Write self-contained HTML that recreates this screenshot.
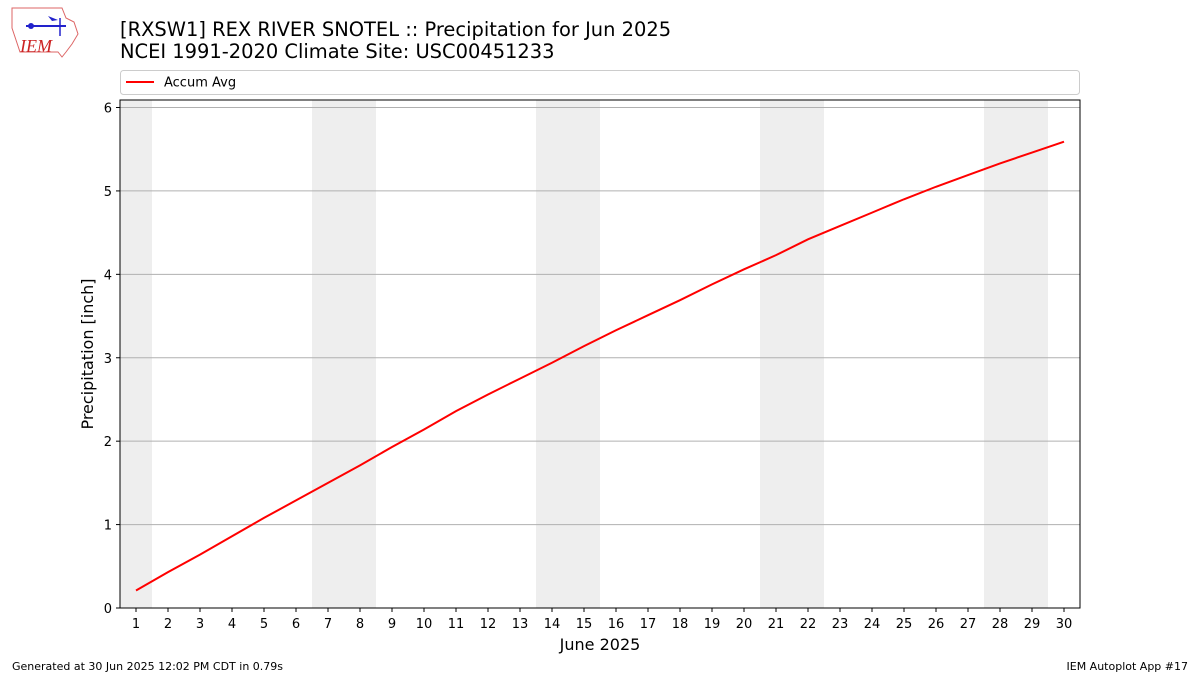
<!DOCTYPE html>
<html><head><meta charset="utf-8"><style>
body{margin:0;background:#fff;width:1200px;height:675px;overflow:hidden;font-family:"Liberation Sans","DejaVu Sans",sans-serif}
svg{display:block}
</style></head><body>
<svg width="1200" height="675" id="chart" font-family="DejaVu Sans, Liberation Sans, sans-serif">
<g>
<path d="M12 8 L62 8 L66 18 L74 22 L78 34 L72 44 L66 52 L62 57 L58 52 L20 52 L16 40 L12 28 Z" fill="#fff" stroke="#d66" stroke-width="1"/>
<line x1="26" y1="26" x2="66" y2="26" stroke="#22c" stroke-width="2"/>
<circle cx="31" cy="26" r="3" fill="#22c"/>
<path d="M48 16 L58 20 L52 21 Z" fill="#22c"/>
<line x1="60" y1="18" x2="60" y2="36" stroke="#22c" stroke-width="1.5"/>
<text x="20" y="52" font-family="Liberation Serif, serif" font-style="italic" font-size="18" fill="#c22">IEM</text>
</g>
<text x="120" y="36" font-size="19.45" fill="#000">[RXSW1] REX RIVER SNOTEL :: Precipitation for Jun 2025</text>
<text x="120" y="58" font-size="19.45" fill="#000">NCEI 1991-2020 Climate Site: USC00451233</text>
<g>
<rect x="120.5" y="70.5" width="959" height="24" rx="3" fill="#fff" stroke="#ccc"/>
<line x1="126" y1="82" x2="154" y2="82" stroke="#f00" stroke-width="2"/>
<text x="164" y="86.5" font-size="13">Accum Avg</text>
</g>
<g id="shade"></g><g id="grid"></g><g id="series"></g><g id="axes"></g>
<text transform="translate(93,354) rotate(-90)" text-anchor="middle" font-size="16">Precipitation [inch]</text>
<text x="600" y="650" text-anchor="middle" font-size="16">June 2025</text>
<text x="12" y="670" font-size="11">Generated at 30 Jun 2025 12:02 PM CDT in 0.79s</text>
<text x="1188" y="670" text-anchor="end" font-size="11">IEM Autoplot App #17</text>
</svg>
<script>
const days=[1,2,3,4,5,6,7,8,9,10,11,12,13,14,15,16,17,18,19,20,21,22,23,24,25,26,27,28,29,30];
const accumAvg=[0.21,0.43,0.64,0.86,1.08,1.29,1.50,1.71,1.93,2.14,2.36,2.56,2.75,2.94,3.14,3.33,3.51,3.69,3.88,4.06,4.23,4.42,4.58,4.74,4.90,5.05,5.19,5.33,5.46,5.59];
const yTicks=[0,1,2,3,4,5,6];
const weekendStarts=[0.5,6.5,13.5,20.5,27.5];
const weekendEnds=[1.5,8.5,15.5,22.5,29.5];
const L=120,R=1080,T=100,B=608,xMin=0.5,xMax=30.5,yMin=0,yMax=6.09;
const X=v=>L+(v-xMin)/(xMax-xMin)*(R-L);
const Y=v=>B-(v-yMin)/(yMax-yMin)*(B-T);
const NS="http://www.w3.org/2000/svg";
function mk(p,tag,a){const e=document.createElementNS(NS,tag);for(const k in a)e.setAttribute(k,a[k]);document.getElementById(p).appendChild(e);return e;}
weekendStarts.forEach((s,i)=>{const e=mk('shade','rect',{x:X(s),y:T,width:X(weekendEnds[i])-X(s),height:B-T,fill:'#eee'});

});
yTicks.forEach(t=>{const g=mk('grid','line',{x1:L,x2:R,y1:Y(t),y2:Y(t),stroke:'#b0b0b0','stroke-width':1});


mk('axes','line',{x1:L-4,x2:L,y1:Y(t),y2:Y(t),stroke:'#000'});
const tx=mk('axes','text',{x:L-8,y:Y(t)+5,'text-anchor':'end','font-size':13});tx.textContent=t;

});
days.forEach(d=>{mk('axes','line',{x1:X(d),x2:X(d),y1:B,y2:B+4,stroke:'#000'});
const tx=mk('axes','text',{x:X(d),y:B+20,'text-anchor':'middle','font-size':13});tx.textContent=d;

});
const fr=mk('axes','rect',{x:L,y:T,width:R-L,height:B-T,fill:'none',stroke:'#000','stroke-width':1});


const pl=mk('series','polyline',{points:days.map((d,i)=>X(d)+','+Y(accumAvg[i])).join(' '),fill:'none',stroke:'#f00','stroke-width':2});


</script>
</body></html>
